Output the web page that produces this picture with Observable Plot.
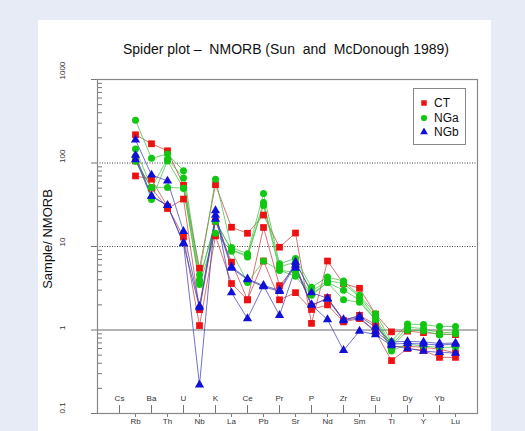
<!DOCTYPE html>
<html>
<head>
<meta charset="utf-8">
<script src="https://cdn.jsdelivr.net/npm/d3@7"></script>
<script src="https://cdn.jsdelivr.net/npm/@observablehq/plot@0.6"></script>
<style>
  html, body { margin: 0; padding: 0; }
  body { width: 525px; height: 431px; overflow: hidden; position: relative; background: #e7ebf5;
         font-family: "Liberation Sans", Arial, sans-serif; color: #111; }
  #panel { position: absolute; left: 38px; top: 20px; width: 453px; height: 411px; background: #fff; }
  #chart { position: absolute; left: 38px; top: 20px; }
  #title { position: absolute; left: 86px; width: 400px; top: 40px; line-height: 18px; text-align: center;
           font-size: 14px; white-space: pre; color: #111; }
  #ylabel { position: absolute; left: 47px; top: 239px; transform: translate(-50%, -50%) rotate(-90deg);
            white-space: nowrap; font-size: 13px; color: #111; }
  #legend { position: absolute; left: 413px; top: 88px; width: 53px; height: 57px; border: 1px solid #888;
            background: #fff; box-sizing: border-box; padding-top: 7px; }
  #legend .row { height: 14.5px; line-height: 14.5px; font-size: 12px; color: #111; display: flex; align-items: center; }
  #legend svg { margin-left: 6px; margin-right: 6px; }
</style>
</head>
<body>
<div id="panel"></div>
<div id="chart"></div>
<div id="title"></div>
<div id="ylabel"></div>
<div id="legend"></div>
<script>
// ---- data ----
const titleText = "Spider plot \u2013  NMORB (Sun  and  McDonough 1989)";
const yLabelText = "Sample/ NMORB";
const elements = ["Cs","Rb","Ba","Th","U","Nb","K","La","Ce","Pb","Pr","Sr","P","Nd","Zr","Sm","Eu","Ti","Dy","Y","Yb","Lu"];
const upperLabels = ["Cs","Ba","U","K","Ce","Pr","P","Zr","Eu","Dy","Yb"];
const lowerLabels = ["Rb","Th","Nb","La","Pb","Sr","Nd","Sm","Ti","Y","Lu"];
const yTicks = [0.1, 1, 10, 100, 1000];
const yTickLabels = ["0.1", "1", "10", "100", "1000"];
const groups = ["CT", "NGa", "NGb"];
const groupColors = ["#ee1111", "#11c811", "#1010d8"];
const lineColors = ["#c83a3a", "#3cbf3c", "#3a3ab8"];
const groupSymbols = ["square", "circle", "triangle"];

// values for Rb ... Lu (Cs not analysed)
const sampleElements = ["Rb","Ba","Th","U","Nb","K","La","Ce","Pb","Pr","Sr","P","Nd","Zr","Sm","Eu","Ti","Dy","Y","Yb","Lu"];
const CT_1 = [218,170,140,54,5.5,55,17,14.4,23.8,9.8,14.5,1.2,6.7,3.6,3.16,1.55,0.95,0.97,0.93,0.9,0.88];
const CT_2 = [106,50,28.5,37,1.75,20,6.5,2.3,16.9,3.4,5.8,1.93,2.45,1.3,1.5,1.16,0.63,0.64,0.62,0.59,0.53];
const CT_3 = [70,64,30,13,1.13,13.4,3.6,2.3,6.7,2.3,2.8,1.76,2.0,1.25,1.37,0.95,0.43,0.6,0.57,0.47,0.47];
const NGa_1 = [324,114,128,81,4.6,64,9.7,8.2,43,6.2,7.2,3.25,4.3,3.86,2.6,1.57,0.73,1.18,1.16,1.1,1.1];
const NGa_2 = [147,51,112,66,4.0,20,9.1,7.8,33.6,5.7,6.5,2.9,3.9,3.6,2.5,1.42,0.66,1.08,1.04,0.92,0.95];
const NGa_3 = [120,36.5,106,50,3.86,20,9.1,7.5,31,5.2,4.9,2.7,3.7,3.0,2.3,1.33,0.62,0.99,0.98,0.87,0.9];
const NGa_4 = [105,51,51,50,3.5,14.4,8.8,3.7,6.7,5.2,4.4,2.6,3.7,2.3,2.15,1.33,0.56,0.68,0.64,0.62,0.62];
const NGb_1 = [189,72,61,15.2,1.93,23.8,5.7,4.1,3.4,3.0,6.5,2.8,2.4,1.33,1.46,1.08,0.72,0.73,0.72,0.69,0.7];
const NGb_2 = [124,40,31,10.8,1.85,21.3,5.5,4.0,3.3,2.9,6.0,2.0,2.35,1.3,1.4,0.97,0.68,0.69,0.68,0.66,0.68];
const NGb_3 = [110,40,31,11,0.22,27,2.8,1.37,3.4,1.5,5.5,2.0,1.33,0.57,0.97,0.88,0.65,0.6,0.56,0.54,0.53];

const samplesByGroup = [
  [["CT_1", CT_1], ["CT_2", CT_2], ["CT_3", CT_3]],
  [["NGa_1", NGa_1], ["NGa_2", NGa_2], ["NGa_3", NGa_3], ["NGa_4", NGa_4]],
  [["NGb_1", NGb_1], ["NGb_2", NGb_2], ["NGb_3", NGb_3]]
];

// ---- build tables ----
const tables = samplesByGroup.map((samples, g) =>
  samples.flatMap(([name, vals]) => vals.map((v, i) => ({group: groups[g], sample: name, element: sampleElements[i], value: v})))
);
const minorTicks = d3.range(-1, 3).flatMap(e => d3.range(2, 10).map(m => +(m * Math.pow(10, e)).toPrecision(3)));

const lineMarks = tables.map((t, g) => Plot.line(t, {x: "element", y: "value", z: "sample", stroke: lineColors[g], strokeWidth: 0.8, strokeOpacity: 0.9}));
const dotSizes = [3.8, 3.5, 3.4];
const dotMarks = tables.map((t, g) => Plot.dot(t, {x: "element", y: "value", symbol: groupSymbols[g], fill: groupColors[g], r: dotSizes[g], stroke: "none"}));

const chart = Plot.plot({
  width: 453, height: 411,
  marginLeft: 59, marginRight: 14, marginTop: 59, marginBottom: 18,
  style: {fontFamily: "'Liberation Sans', Arial, sans-serif", fontSize: "8px", color: "#333", background: "transparent", overflow: "visible"},
  x: {type: "point", domain: elements, padding: 0.9, axis: null},
  y: {type: "log", domain: [0.1, 1000], axis: null},
  marks: [
    Plot.gridY({ticks: [10, 100], stroke: "#444", strokeOpacity: 1, strokeDasharray: "1,1.5"}),
    Plot.ruleY([1], {stroke: "#b4b4b4", strokeWidth: 2}),
    Plot.axisY({ticks: yTicks, tickSize: 6, tickFormat: () => "", stroke: "#777", label: null}),
    Plot.axisY({ticks: minorTicks, tickSize: 5, dx: 5, tickFormat: () => "", stroke: "#777", label: null}),
    Plot.text(yTicks, {y: d => d, frameAnchor: "left", dx: -35, rotate: -90, text: (d, i) => yTickLabels[i], fill: "#333"}),
    Plot.axisX({ticks: lowerLabels, tickSize: 4, tickFormat: () => "", stroke: "#777", label: null}),
    Plot.axisX({ticks: upperLabels, tickSize: 8, dy: -8, tickFormat: () => "", stroke: "#777", label: null}),
    Plot.text(lowerLabels, {x: d => d, frameAnchor: "bottom", dy: 10, fill: "#333"}),
    Plot.text(upperLabels, {x: d => d, frameAnchor: "bottom", dy: -13, fill: "#333"}),
    Plot.frame({stroke: "#888", strokeWidth: 1.2}),
    ...lineMarks,
    ...dotMarks
  ]
});
document.getElementById("chart").appendChild(chart);
document.getElementById("title").textContent = titleText;
document.getElementById("ylabel").textContent = yLabelText;

// legend
const legend = document.getElementById("legend");
groups.forEach((g, i) => {
  const row = document.createElement("div");
  row.className = "row";
  const s = d3.create("svg").attr("width", 8).attr("height", 8);
  s.append("path").attr("transform", "translate(4,4)")
    .attr("d", d3.symbol(i === 0 ? d3.symbolSquare : i === 1 ? d3.symbolCircle : d3.symbolTriangle, i === 2 ? 26 : 30)())
    .attr("fill", groupColors[i]);
  row.appendChild(s.node());
  const t = document.createElement("span");
  t.textContent = g;
  row.appendChild(t);
  legend.appendChild(row);
});
</script>
</body>
</html>
